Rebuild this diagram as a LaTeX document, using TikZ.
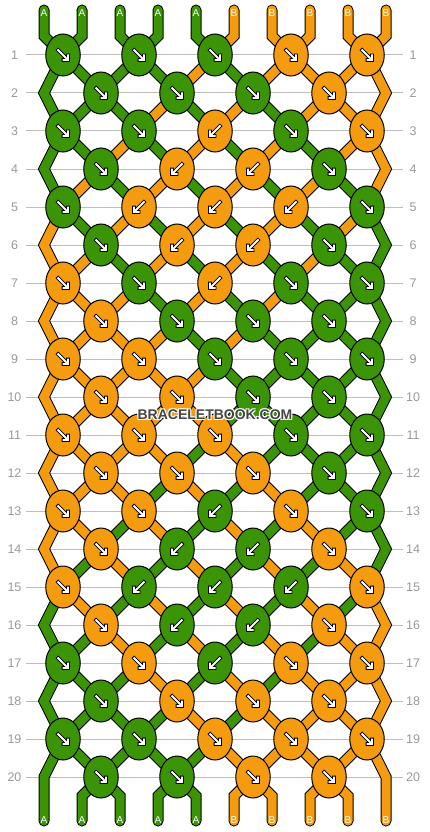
\documentclass[tikz,border=0pt]{standalone}
\usepackage{fontspec}
\setmainfont{Liberation Sans}
\usetikzlibrary{shapes.geometric}
\definecolor{colg}{HTML}{3A9406}
\definecolor{colo}{HTML}{F59B0F}
\definecolor{gridgray}{HTML}{BDBDBD}
\definecolor{labgray}{HTML}{9A9A9A}
\definecolor{markgray}{HTML}{454545}
\tikzset{
  thread/.style={draw=black, line width=1pt, double=#1, double distance=9pt, line join=miter, line cap=round},
  knot/.style={ellipse, draw=black, line width=1pt, minimum width=34.5pt, minimum height=42pt, inner sep=0pt},
  rowline/.style={draw=gridgray, line width=1pt},
  rowlab/.style={text=labgray, font=\fontsize{12.5}{12.5}\selectfont, inner sep=0pt},
  endlab/.style={text=white, font=\fontsize{10}{10}\selectfont, inner sep=0pt},
  marklab/.style={font=\fontsize{14}{14}\selectfont\bfseries, inner sep=0pt},
  arrS/.pic={
    \draw[black, line width=3.6pt, line cap=butt, line join=miter] (-6.2,-6.2) -- (5,5) (-1.4,5) -- (5,5) -- (5,-1.4);
    \draw[white, line width=1.8pt, line cap=butt, line join=miter] (-5.5,-5.5) -- (5,5) (-0.5,5) -- (5,5) -- (5,-0.5);
  }
}
\begin{document}
\begin{tikzpicture}[x=1pt, y=-1pt,
  declare function={ps(\s)=ifthenelse(\s<10,\s+1,20-\s); px(\p)=44+38*(\p-1);}]
\fill[white] (0,0) rectangle (430,832);
\useasboundingbox (0,0) rectangle (430,832);
% row lines and labels
\foreach \r in {1,...,20}{
  \pgfmathsetmacro\yy{55+38*(\r-1)}
  \draw[rowline] (26,\yy) -- (403,\yy);
  \node[rowlab] (L\r) at (14.5,\yy) {\r};
  \node[rowlab] (R\r) at (413,\yy) {\r};
}
% threads
\foreach \t in {1,...,10}{
  \pgfmathtruncatemacro\sz{ifthenelse(mod(\t,2)==1,\t-1,20-\t)}
  \pgfmathsetmacro\xs{44+38*(\t-1)}
  \ifnum\t<6 \def\tc{colg}\def\tl{A}\else\def\tc{colo}\def\tl{B}\fi
  \draw[thread=\tc] (\xs,10) -- (\xs,36)
    \foreach \r in {1,...,20}{ -- ({(px(ps(mod(\sz+\r-1,20)))+px(ps(mod(\sz+\r,20))))/2},{55+38*(\r-1)}) }
    -- (\xs,796) -- (\xs,821);
  \node[endlab] (top\t) at (\xs,13) {\tl};
  \node[endlab] (bot\t) at (\xs,820) {\tl};
}
% knots
\foreach \r/\ks in {
 1/{colg/1,colg/1,colg/1,colo/1,colo/1},
 2/{colg/1,colg/1,colg/1,colo/1},
 3/{colg/1,colg/1,colo/-1,colg/1,colo/1},
 4/{colg/1,colo/-1,colo/-1,colg/1},
 5/{colg/1,colo/-1,colo/-1,colo/-1,colg/1},
 6/{colg/1,colo/-1,colo/-1,colg/1},
 7/{colo/1,colg/1,colo/-1,colg/1,colg/1},
 8/{colo/1,colg/1,colg/1,colg/1},
 9/{colo/1,colo/1,colg/1,colg/1,colg/1},
 10/{colo/1,colo/1,colg/1,colg/1},
 11/{colo/1,colo/1,colo/1,colg/1,colg/1},
 12/{colo/1,colo/1,colo/1,colg/1},
 13/{colo/1,colo/1,colg/-1,colo/1,colg/1},
 14/{colo/1,colg/-1,colg/-1,colo/1},
 15/{colo/1,colg/-1,colg/-1,colg/-1,colo/1},
 16/{colo/1,colg/-1,colg/-1,colo/1},
 17/{colg/1,colo/1,colg/-1,colo/1,colo/1},
 18/{colg/1,colo/1,colo/1,colo/1},
 19/{colg/1,colg/1,colo/1,colo/1,colo/1},
 20/{colg/1,colg/1,colo/1,colo/1}}{
  \pgfmathsetmacro\yy{55+38*(\r-1)}
  \foreach \c/\d [count=\i] in \ks {
    \pgfmathsetmacro\xx{ifthenelse(mod(\r,2)==1,63,101)+76*(\i-1)}
    \node[knot, fill=\c] (k\r-\i) at (\xx,\yy) {};
    \pic[xscale=\d] at (k\r-\i.center) {arrS};
  }
}
% watermark with white halo
\foreach \dx/\dy in {-1/-1,-1/1,1/-1,1/1}
  \node[marklab, text=white] at (215+\dx,415+\dy) {BRACELETBOOK.COM};
\node[marklab, text=markgray] (wm) at (215,415) {BRACELETBOOK.COM};
\end{tikzpicture}
\end{document}
